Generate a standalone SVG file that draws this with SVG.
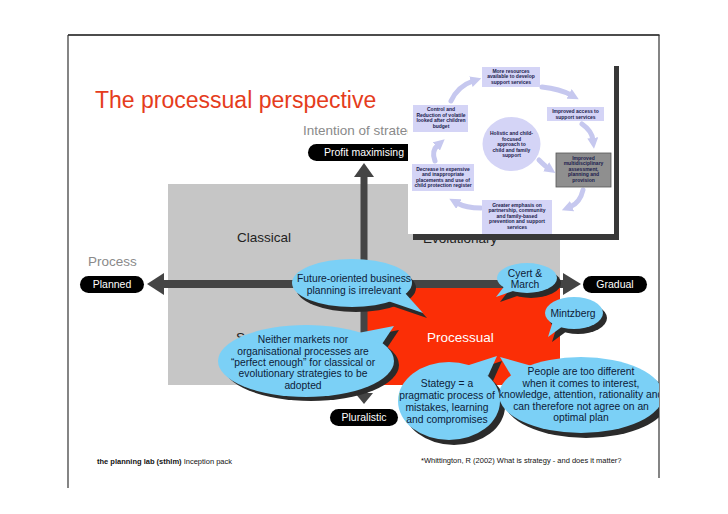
<svg xmlns="http://www.w3.org/2000/svg" width="728" height="514" viewBox="0 0 728 514">
<defs>
<style>
.sans{font-family:"Liberation Sans",Arial,sans-serif}
.lbl{font-family:"Liberation Sans",Arial,sans-serif;font-size:13.5px}
.pill{fill:#000}
.pilltxt{font-family:"Liberation Sans",Arial,sans-serif;font-size:10.5px;fill:#fff;text-anchor:middle}
.bub{fill:#7bd0f6}
.shd{fill:#2b2b2b}
.btxt{font-family:"Liberation Sans",Arial,sans-serif;font-size:10.3px;fill:#0d2038;text-anchor:middle}
.ibox{fill:#d4d4f6}
.itxt{font-family:"Liberation Sans",Arial,sans-serif;font-size:5px;font-weight:bold;fill:#1b1b4d;text-anchor:middle}
.iarr{fill:none;stroke:#c6c8ef;stroke-width:5;stroke-linecap:round;marker-end:url(#ah)}
.axis{fill:#444}
</style>
<marker id="ah" viewBox="0 0 10 10" refX="2" refY="5" markerWidth="11" markerHeight="11" markerUnits="userSpaceOnUse" orient="auto"><path d="M0,0 L10,5 L0,10 z" fill="#c6c8ef"/></marker>
<clipPath id="slide"><rect x="0" y="0" width="659" height="514"/></clipPath>
<clipPath id="inset"><rect x="408" y="60" width="206" height="174"/></clipPath>
</defs>

<g id="frame" stroke="#333" fill="none">
<line x1="68" y1="35" x2="659.5" y2="35" stroke-width="1.6" stroke="#111"/>
<line x1="68" y1="35" x2="68" y2="488" stroke-width="1.2"/>
<line x1="659" y1="35" x2="659" y2="478" stroke-width="1.2"/>
</g>

<text id="title" class="sans" x="95" y="108" font-size="23" fill="#e53c1c">The processual perspective</text>

<g id="quadrants">
<rect x="168" y="184" width="392" height="201" fill="#c6c6c6"/>
<rect x="364" y="284" width="196" height="101" fill="#fb2e06"/>
<text class="lbl" x="264" y="242" fill="#222" text-anchor="middle">Classical</text>
<text class="lbl" x="423" y="243" fill="#222">Evolutionary</text>
<text class="lbl" x="236" y="342" fill="#222">Systemic</text>
<text class="lbl" x="427" y="342" fill="#fff">Processual</text>
</g>

<g id="connectors">
<rect class="axis" x="160" y="280" width="406" height="8"/>
<polygon class="axis" points="147,284 164,273 164,295"/>
<polygon class="axis" points="581,284 563,273 563,295"/>
<rect class="axis" x="360.5" y="174" width="7" height="222"/>
<polygon class="axis" points="364,163 354,177 374,177"/>
<polygon class="axis" points="364,404 355,393 373,393"/>
</g>

<text id="axis-y-title" class="lbl" x="303" y="135" fill="#8a8a8a">Intention of strategy</text>
<text id="axis-x-title" class="lbl" x="88" y="266" fill="#8a8a8a">Process</text>

<g id="profit">
<rect class="pill" x="308" y="144" width="112" height="17" rx="8.5"/>
<text class="pilltxt" x="364" y="156">Profit maximising</text>
</g>
<g id="planned">
<rect class="pill" x="80" y="276" width="64" height="17" rx="8.5"/>
<text class="pilltxt" x="112" y="288">Planned</text>
</g>
<g id="gradual">
<rect class="pill" x="583" y="276" width="64" height="17" rx="8.5"/>
<text class="pilltxt" x="615" y="288">Gradual</text>
</g>
<g id="pluralistic">
<rect class="pill" x="330" y="409" width="68" height="17" rx="8.5"/>
<text class="pilltxt" x="364" y="421">Pluralistic</text>
</g>

<g id="inset">
<rect x="413" y="66" width="206" height="174" fill="#383838"/>
<rect x="408" y="60" width="206" height="174" fill="#fff"/>
<g clip-path="url(#inset)">
<path class="iarr" d="M451,101 Q458,86 473,81"/>
<path class="iarr" d="M542,87 Q560,89 571,95"/>
<path class="iarr" d="M582,124 Q592,131 593,140"/>
<path class="iarr" d="M583,190 Q580,203 570,207"/>
<path class="iarr" d="M481,208 Q466,208 457,203"/>
<path class="iarr" d="M435,161 Q431,151 438,145"/>
<path class="iarr" d="M539,160 Q545,166 548,168"/>

<g id="more-resources">
<rect class="ibox" x="482" y="67" width="58" height="20"/>
<text class="itxt" x="511" y="72.5">More resources</text>
<text class="itxt" x="511" y="78">available to develop</text>
<text class="itxt" x="511" y="83.5">support services</text>
</g>
<g id="control">
<rect class="ibox" x="413" y="105" width="55" height="27"/>
<text class="itxt" x="441" y="111">Control and</text>
<text class="itxt" x="441" y="116.5">Reduction of volatile</text>
<text class="itxt" x="441" y="122">looked after children</text>
<text class="itxt" x="441" y="127.5">budget</text>
</g>
<g id="access">
<rect class="ibox" x="547" y="107" width="57" height="14"/>
<text class="itxt" x="575.5" y="113">Improved access to</text>
<text class="itxt" x="575.5" y="118.5">support services</text>
</g>
<g id="holistic">
<ellipse class="ibox" cx="511.5" cy="144" rx="29" ry="27"/>
<text class="itxt" x="511.5" y="135">Holistic and child-</text>
<text class="itxt" x="511.5" y="140.5">focused</text>
<text class="itxt" x="511.5" y="146">approach to</text>
<text class="itxt" x="511.5" y="151.5">child and family</text>
<text class="itxt" x="511.5" y="157">support</text>
</g>
<g id="multidisciplinary">
<rect x="556" y="153" width="55" height="34" fill="#8f8f8f" stroke="#555" stroke-width="0.8"/>
<text class="itxt" x="583.5" y="159.5">Improved</text>
<text class="itxt" x="583.5" y="165">multidisciplinary</text>
<text class="itxt" x="583.5" y="170.5">assessment,</text>
<text class="itxt" x="583.5" y="176">planning and</text>
<text class="itxt" x="583.5" y="181.5">provision</text>
</g>
<g id="decrease">
<rect class="ibox" x="412" y="164" width="62" height="27"/>
<text class="itxt" x="443" y="170.5">Decrease in expensive</text>
<text class="itxt" x="443" y="176">and inappropriate</text>
<text class="itxt" x="443" y="181.5">placements and use of</text>
<text class="itxt" x="443" y="187">child protection register</text>
</g>
<g id="greater">
<rect class="ibox" x="482" y="200" width="70" height="36"/>
<text class="itxt" x="517" y="206.5">Greater emphasis on</text>
<text class="itxt" x="517" y="212">partnership, community</text>
<text class="itxt" x="517" y="217.5">and family-based</text>
<text class="itxt" x="517" y="223">prevention and support</text>
<text class="itxt" x="517" y="228.5">services</text>
</g>
</g>
</g>

<g clip-path="url(#slide)">
<g id="bubble-future">
<g class="shd" transform="translate(4,5)"><ellipse cx="352" cy="283" rx="60" ry="24"/><polygon points="385,300 405,293 423,313"/></g>
<ellipse class="bub" cx="352" cy="283" rx="60" ry="24"/><polygon class="bub" points="385,300 405,293 423,313"/>
<text class="btxt" x="354" y="282">Future-oriented business</text>
<text class="btxt" x="354" y="294">planning is irrelevant</text>
</g>
<g id="bubble-cyert">
<g class="shd" transform="translate(4,5)"><ellipse cx="527" cy="278" rx="30" ry="15"/><polygon points="506,284 516,290 496,297"/></g>
<ellipse class="bub" cx="527" cy="278" rx="30" ry="15"/><polygon class="bub" points="506,284 516,290 496,297"/>
<text class="btxt" x="525" y="277">Cyert &amp;</text>
<text class="btxt" x="525" y="288">March</text>
</g>
<g id="bubble-mintzberg">
<g class="shd" transform="translate(4,5)"><ellipse cx="574" cy="313" rx="29" ry="16"/><polygon points="553,321 563,326 548,337"/></g>
<ellipse class="bub" cx="574" cy="313" rx="29" ry="16"/><polygon class="bub" points="553,321 563,326 548,337"/>
<text class="btxt" x="573" y="317">Mintzberg</text>
</g>
<g id="bubble-neither">
<g class="shd" transform="translate(5,4)"><ellipse cx="306" cy="361" rx="88" ry="36"/><polygon points="358,333 382,344 394,326"/></g>
<ellipse class="bub" cx="306" cy="361" rx="88" ry="36"/><polygon class="bub" points="358,333 382,344 394,326"/>
<text class="btxt" x="303" y="343">Neither markets nor</text>
<text class="btxt" x="303" y="354.5">organisational processes are</text>
<text class="btxt" x="303" y="366">“perfect enough” for classical or</text>
<text class="btxt" x="303" y="377">evolutionary strategies to be</text>
<text class="btxt" x="303" y="388.5">adopted</text>
</g>
<g id="bubble-stategy">
<g class="shd" transform="translate(5,5)"><ellipse cx="449" cy="401" rx="51" ry="39"/><polygon points="466,366 488,376 497,356"/></g>
<ellipse class="bub" cx="449" cy="401" rx="51" ry="39"/><polygon class="bub" points="466,366 488,376 497,356"/>
<text class="btxt" x="447" y="387">Stategy = a</text>
<text class="btxt" x="447" y="399">pragmatic process of</text>
<text class="btxt" x="447" y="411">mistakes, learning</text>
<text class="btxt" x="447" y="422.5">and compromises</text>
</g>
<g id="bubble-people">
<g class="shd" transform="translate(5,5)"><ellipse cx="581" cy="395" rx="82" ry="38"/><polygon points="512,377 532,366 500,357"/></g>
<ellipse class="bub" cx="581" cy="395" rx="82" ry="38"/><polygon class="bub" points="512,377 532,366 500,357"/>
<text class="btxt" x="581" y="375">People are too different</text>
<text class="btxt" x="581" y="386.5">when it comes to interest,</text>
<text class="btxt" x="581" y="398">knowledge, attention, rationality and</text>
<text class="btxt" x="581" y="409.5">can therefore not agree on an</text>
<text class="btxt" x="581" y="421">optimal plan</text>
</g>
</g>

<g id="footer" class="sans" font-size="7.5" fill="#111">
<text x="97" y="464"><tspan font-weight="bold">the planning lab (sthlm)</tspan> Inception pack</text>
<text x="421" y="463">*Whittington, R (2002) What is strategy - and does it matter?</text>
</g>
</svg>
